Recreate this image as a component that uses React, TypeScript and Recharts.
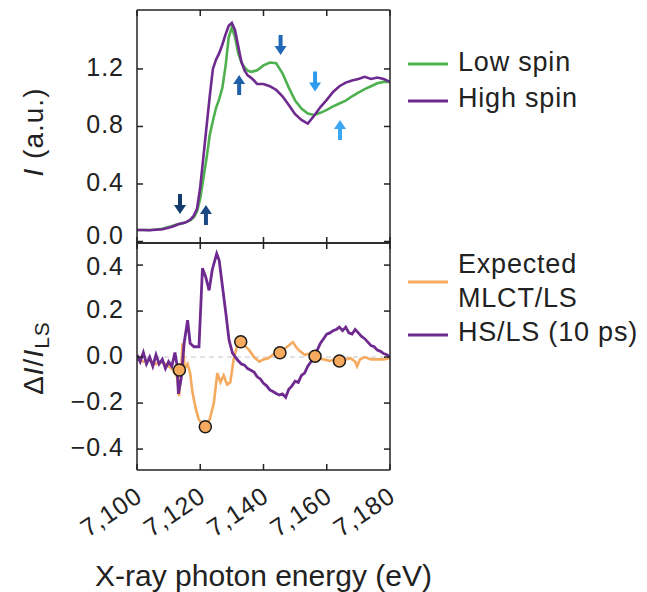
import React from 'react';
import { ComposedChart, Line, XAxis, YAxis, Scatter, ReferenceLine } from 'recharts';

// ---------- data ----------
const energyTop = [
  7100, 7102, 7104, 7106, 7108, 7110, 7112, 7113, 7114, 7115, 7116, 7117, 7118, 7119, 7120,
  7121, 7122, 7123, 7124, 7125, 7126, 7127, 7128, 7129, 7130, 7131, 7132, 7133, 7134, 7135,
  7136, 7137, 7138, 7140, 7142, 7144, 7146, 7148, 7150, 7152, 7154, 7156, 7158, 7160, 7162,
  7164, 7166, 7168, 7170, 7172, 7174, 7176, 7178, 7180,
];
const lowSpin = [
  0.08, 0.08, 0.08, 0.083, 0.088, 0.1, 0.115, 0.12, 0.125, 0.13, 0.14, 0.15, 0.17, 0.21, 0.3,
  0.44, 0.58, 0.74, 0.84, 0.93, 0.99, 1.07, 1.22, 1.42, 1.49, 1.42, 1.31, 1.245, 1.21, 1.19,
  1.18, 1.185, 1.19, 1.225, 1.245, 1.24, 1.17, 1.07, 0.98, 0.925, 0.89, 0.88, 0.895, 0.915, 0.94,
  0.96, 0.98, 1.01, 1.035, 1.06, 1.08, 1.1, 1.11, 1.11,
];
const highSpin = [
  0.08, 0.08, 0.078, 0.082, 0.085, 0.095, 0.11, 0.12, 0.125, 0.13, 0.14, 0.155, 0.18, 0.23, 0.38,
  0.59, 0.8, 1.01, 1.2, 1.265, 1.31, 1.37, 1.44, 1.5, 1.52, 1.47, 1.36, 1.25, 1.19, 1.155,
  1.14, 1.12, 1.095, 1.095, 1.08, 1.055, 1.01, 0.95, 0.885, 0.845, 0.82, 0.875, 0.935, 0.985, 1.04,
  1.08, 1.105, 1.12, 1.13, 1.145, 1.13, 1.14, 1.13, 1.11,
];

const energyHS = [
  7100, 7101, 7102, 7103, 7104, 7105, 7106, 7107, 7108, 7109, 7110, 7111, 7112, 7112.6, 7113.1,
  7114, 7114.9, 7116, 7116.8, 7118, 7119.6, 7120.7, 7121.7, 7122.8, 7123.8, 7125.2, 7126, 7127, 7128.1, 7129.1,
  7130.2, 7131.8, 7133, 7134, 7135, 7136, 7137, 7138, 7139, 7140, 7141, 7142, 7143, 7144, 7145,
  7146, 7147, 7148, 7149, 7150, 7151, 7152, 7153, 7154, 7155, 7156, 7157, 7158, 7159, 7160,
  7161, 7162, 7163, 7164, 7165, 7166, 7167, 7168, 7169, 7170, 7171, 7172, 7173, 7174, 7175,
  7176, 7177, 7178, 7179, 7180,
];
const hsOverLs = [
  0.01, -0.02, 0.02, -0.03, 0.0, -0.04, 0.01, -0.03, -0.01, -0.05, -0.02, -0.04, 0.02, -0.03, -0.16,
  -0.09, 0.06, 0.16, 0.06, 0.045, 0.045, 0.386, 0.35, 0.29, 0.38, 0.45, 0.42, 0.31, 0.19, 0.074,
  0.017, -0.013, -0.03, -0.035, -0.05, -0.057, -0.065, -0.086, -0.095, -0.114, -0.125, -0.143, -0.15, -0.158, -0.165,
  -0.16, -0.175, -0.14, -0.125, -0.105, -0.11, -0.08, -0.07, -0.04, -0.02, 0.0, 0.03, 0.06, 0.08, 0.1,
  0.105, 0.115, 0.12, 0.13, 0.115, 0.13, 0.105, 0.1, 0.12, 0.105, 0.09, 0.08, 0.065, 0.05, 0.045,
  0.03, 0.025, 0.015, 0.01, 0.0,
];

const energyMLCT = [
  7100, 7102, 7104, 7106, 7108, 7110, 7111, 7112, 7112.8, 7113.3, 7113.8, 7114.4, 7115.1, 7116, 7116.8,
  7117.5, 7118.5, 7119.5, 7120.5, 7121.6, 7123, 7124.3, 7125.4, 7126.4, 7127.4, 7128.5, 7129.5, 7130.6, 7131.6, 7132.8,
  7134, 7135.5, 7137, 7138.7, 7140, 7141.5, 7143, 7145.2, 7146.5, 7148, 7149.3, 7150.5, 7151.5, 7153, 7154.5,
  7156.3, 7157.5, 7159, 7161, 7162.5, 7164, 7166, 7167.5, 7169, 7169.6, 7170.5, 7172, 7174, 7176, 7178,
  7180,
];
const mlctOverLs = [
  -0.01, -0.02, -0.015, -0.03, -0.02, -0.04, -0.05, -0.07, -0.09, -0.17, -0.09, 0.06, -0.05, -0.03, -0.07,
  -0.15, -0.22, -0.27, -0.29, -0.303, -0.27, -0.2, -0.07, -0.11, -0.08, -0.12, -0.11, -0.006, 0.045, 0.067,
  0.05, 0.03, 0.0, -0.02, -0.01, -0.005, 0.01, 0.019, 0.035, 0.05, 0.065, 0.04, 0.026, 0.01, 0.015,
  0.004, -0.005, -0.01, -0.017, -0.01, -0.017, -0.01, -0.005, -0.02, -0.04, -0.01, 0.0, -0.01, -0.01, -0.01,
  -0.005,
];

const markerEnergy = [7113.4, 7121.6, 7132.8, 7145.2, 7156.3, 7164];
const markerValue = [-0.056, -0.303, 0.067, 0.019, 0.004, -0.017];

const arrowEnergy = [7113.6, 7121.8, 7132.3, 7145.4, 7156.3, 7164.2];
const arrowIntensity = [0.261, 0.184, 1.089, 1.367, 1.112, 0.776];
const arrowDirection = ['down', 'up', 'up', 'down', 'down', 'up'];

const xTicks = [7100, 7120, 7140, 7160, 7180];
const topYTicks = [0, 0.4, 0.8, 1.2];
const bottomYTicks = [-0.4, -0.2, 0, 0.2, 0.4];

// ---------- styles ----------
const arrowColors = ['#143d6e', '#1a4a85', '#1f60a8', '#2168b6', '#2c9bee', '#3ba7f3'];
const GREEN = '#4fb04f';
const PURPLE = '#6e2a8f';
const ORANGE = '#f5aa5e';
const INK = '#222';
const FONT = '"Liberation Sans", Arial, Helvetica, sans-serif';

const W = 647;
const H = 592;
const PLOT_LEFT = 137;
const PLOT_RIGHT = 390;
const TOP_PLOT_TOP = 10;
const DIVIDER = 243;
const BOTTOM_PLOT_BOTTOM = 470;
const TL = 6;
const AX = 1; // axis box thickness reserved by recharts

const topData = energyTop.map((x, i) => ({ x, low: lowSpin[i], high: highSpin[i] }));
const hsData = energyHS.map((x, i) => ({ x, v: hsOverLs[i] }));
const mlctData = energyMLCT.map((x, i) => ({ x, v: mlctOverLs[i] }));
const markerData = markerEnergy.map((x, i) => ({ x, v: markerValue[i] }));
const arrowData = arrowEnergy.map((x, i) => ({ x, y: arrowIntensity[i], dir: arrowDirection[i], color: arrowColors[i] }));

const fmtY = (v: number) => (v < 0 ? '\u2212' + Math.abs(v).toFixed(1) : v.toFixed(1));

const leftTick = (shiftFor: (v: number) => number) => (props: any) => {
  const { x, y, payload } = props;
  const v = payload.value;
  return (
    <g>
      <line x1={x} y1={y} x2={x + TL} y2={y} stroke={INK} strokeWidth={1.5} />
      <text x={x - 13} y={y + shiftFor(v)} dy={8} textAnchor="end" fontSize={25} fill={INK} fontFamily={FONT} letterSpacing={1}>
        {fmtY(v)}
      </text>
    </g>
  );
};
const rightTick = (props: any) => {
  const { x, y } = props;
  return <line x1={x - TL} y1={y} x2={x} y2={y} stroke={INK} strokeWidth={1.5} />;
};
const topTick = (props: any) => {
  const { x, y } = props;
  return <line x1={x} y1={y} x2={x} y2={y + TL} stroke={INK} strokeWidth={1.5} />;
};
const bottomTickNoLabel = (props: any) => {
  const { x, y } = props;
  return <line x1={x} y1={y - TL} x2={x} y2={y} stroke={INK} strokeWidth={1.5} />;
};
const bottomTickLabel = (props: any) => {
  const { x, y, payload } = props;
  return (
    <g>
      <line x1={x} y1={y - TL} x2={x} y2={y} stroke={INK} strokeWidth={1.5} />
      <text
        transform={`translate(${x + 7},${y + 30}) rotate(-34)`}
        textAnchor="end"
        fontSize={25}
        fill={INK}
        fontFamily={FONT}
        letterSpacing={1}
      >
        {Number(payload.value).toLocaleString('en-US')}
      </text>
    </g>
  );
};

const ArrowShape = (props: any) => {
  const { cx, cy, payload } = props;
  if (cx == null || cy == null) return null;
  const s = payload.dir === 'up' ? -1 : 1;
  const p = [
    [cx - 2, cy - 10 * s],
    [cx + 2, cy - 10 * s],
    [cx + 2, cy + 1 * s],
    [cx + 6, cy + 1 * s],
    [cx, cy + 10 * s],
    [cx - 6, cy + 1 * s],
    [cx - 2, cy + 1 * s],
  ];
  const d = 'M' + p.map((q) => q.join(',')).join('L') + 'Z';
  return <path d={d} fill={payload.color} />;
};

const MarkerShape = (props: any) => {
  const { cx, cy } = props;
  if (cx == null || cy == null) return null;
  return <circle cx={cx} cy={cy} r={6} fill={ORANGE} stroke="#1b1b1b" strokeWidth={1.5} />;
};

const axisLine = { stroke: INK, strokeWidth: 1.5 };

export default function App() {
  const right = W - PLOT_RIGHT - AX;
  return (
    <div style={{ position: 'absolute', left: 0, top: 0, width: W, height: H, background: '#fff', fontFamily: FONT }}>
      {/* top panel */}
      <div style={{ position: 'absolute', left: 0, top: 0 }}>
        <ComposedChart
          width={W}
          height={H}
          data={topData}
          margin={{ top: TOP_PLOT_TOP - AX, right, bottom: H - DIVIDER - AX, left: PLOT_LEFT - AX }}
        >
          <XAxis xAxisId={0} dataKey="x" type="number" domain={[7100, 7180]} ticks={xTicks} allowDataOverflow height={AX}
            axisLine={axisLine} tickLine={false} tickSize={0} tickMargin={0} tick={bottomTickNoLabel} interval={0} />
          <XAxis xAxisId="t" orientation="top" dataKey="x" type="number" domain={[7100, 7180]} ticks={xTicks} allowDataOverflow height={AX}
            axisLine={axisLine} tickLine={false} tickSize={0} tickMargin={0} tick={topTick} interval={0} />
          <YAxis yAxisId={0} type="number" domain={[-0.0104, 1.61]} ticks={topYTicks} allowDataOverflow width={AX}
            axisLine={axisLine} tickLine={false} tickSize={0} tickMargin={0} interval={0}
            tick={leftTick((v) => (v === 0 ? -6 : -1))} />
          <YAxis yAxisId="r" orientation="right" type="number" domain={[-0.0104, 1.61]} ticks={topYTicks} allowDataOverflow width={AX}
            axisLine={axisLine} tickLine={false} tickSize={0} tickMargin={0} tick={rightTick} interval={0} />
          <Line dataKey="low" stroke={GREEN} strokeWidth={2.6} dot={false} isAnimationActive={false} type="linear" />
          <Line dataKey="high" stroke={PURPLE} strokeWidth={2.6} dot={false} isAnimationActive={false} type="linear" />
          <Scatter data={arrowData} dataKey="y" shape={ArrowShape} isAnimationActive={false} />
        </ComposedChart>
      </div>
      {/* bottom panel */}
      <div style={{ position: 'absolute', left: 0, top: 0 }}>
        <ComposedChart
          width={W}
          height={H}
          margin={{ top: DIVIDER - AX, right, bottom: H - BOTTOM_PLOT_BOTTOM - AX, left: PLOT_LEFT - AX }}
        >
          <XAxis xAxisId={0} dataKey="x" type="number" domain={[7100, 7180]} ticks={xTicks} allowDataOverflow height={AX}
            axisLine={axisLine} tickLine={false} tickSize={0} tickMargin={0} tick={bottomTickLabel} interval={0} />
          <XAxis xAxisId="t" orientation="top" dataKey="x" type="number" domain={[7100, 7180]} ticks={xTicks} allowDataOverflow height={AX}
            axisLine={axisLine} tickLine={false} tickSize={0} tickMargin={0} tick={topTick} interval={0} />
          <YAxis yAxisId={0} type="number" domain={[-0.491, 0.496]} ticks={bottomYTicks} allowDataOverflow width={AX}
            axisLine={axisLine} tickLine={false} tickSize={0} tickMargin={0} interval={0}
            tick={leftTick((v) => (v === 0.4 ? 2 : -1))} />
          <YAxis yAxisId="r" orientation="right" type="number" domain={[-0.491, 0.496]} ticks={bottomYTicks} allowDataOverflow width={AX}
            axisLine={axisLine} tickLine={false} tickSize={0} tickMargin={0} tick={rightTick} interval={0} />
          <ReferenceLine y={0} stroke="#c4c4c4" strokeDasharray="5 4" strokeWidth={1} />
          <Line data={mlctData} dataKey="v" stroke={ORANGE} strokeWidth={2.6} dot={false} isAnimationActive={false} type="linear" />
          <Line data={hsData} dataKey="v" stroke={PURPLE} strokeWidth={2.8} dot={false} isAnimationActive={false} type="linear" />
          <Scatter data={markerData} dataKey="v" shape={MarkerShape} isAnimationActive={false} />
        </ComposedChart>
      </div>
      {/* titles and legends */}
      <svg width={W} height={H} style={{ position: 'absolute', left: 0, top: 0, pointerEvents: 'none' }} fontFamily={FONT} fill={INK}>
        <text transform="translate(43,132) rotate(-90)" textAnchor="middle" fontSize={28} letterSpacing={1}>
          <tspan fontStyle="italic">I</tspan> (a.u.)
        </text>
        <text transform="translate(43,358) rotate(-90)" textAnchor="middle" fontSize={28} letterSpacing={1}>
          Δ<tspan fontStyle="italic">I</tspan>/<tspan fontStyle="italic">I</tspan><tspan fontSize={21} dy={6}>LS</tspan>
        </text>
        <text x={(PLOT_LEFT + PLOT_RIGHT) / 2} y={586} textAnchor="middle" fontSize={30}>
          X-ray photon energy (eV)
        </text>
        {/* top legend */}
        <line x1={408} x2={448} y1={64} y2={64} stroke={GREEN} strokeWidth={3} />
        <text x={458} y={71} fontSize={27} letterSpacing={0.8}>Low spin</text>
        <line x1={408} x2={448} y1={101} y2={101} stroke={PURPLE} strokeWidth={3} />
        <text x={458} y={107} fontSize={27} letterSpacing={0.8}>High spin</text>
        {/* bottom legend */}
        <text x={458} y={273} fontSize={27} letterSpacing={0.8}>Expected</text>
        <line x1={408} x2={448} y1={282} y2={282} stroke={ORANGE} strokeWidth={3} />
        <text x={458} y={307} fontSize={27} letterSpacing={0.8}>MLCT/LS</text>
        <line x1={408} x2={448} y1={335} y2={335} stroke={PURPLE} strokeWidth={3} />
        <text x={458} y={341} fontSize={27} letterSpacing={0.8}>HS/LS (10 ps)</text>
      </svg>
    </div>
  );
}
